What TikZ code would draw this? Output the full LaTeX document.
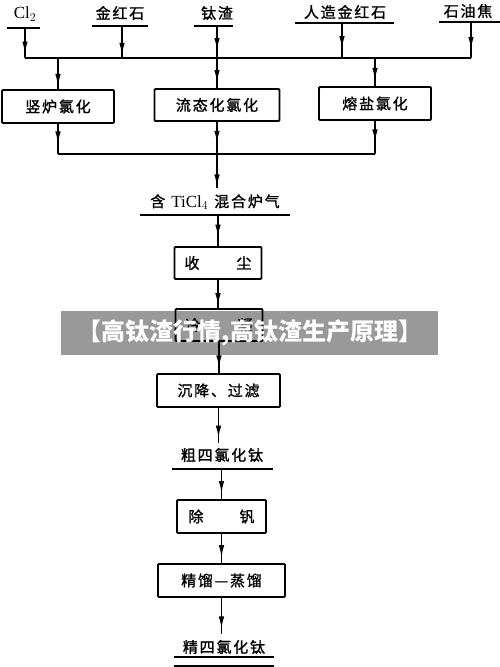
\documentclass[tikz,border=0pt]{standalone}
\usepackage{fontspec}
\setmainfont{Liberation Serif}
\newfontfamily\cjk[LetterSpace=12,FakeBold=1.2]{Noto Sans CJK SC}
\newfontfamily\bannerfont{Noto Sans CJK SC}
\newcommand\cjkfs{\cjk\fontsize{15}{15}\selectfont}
\usetikzlibrary{arrows.meta,decorations.markings}
\tikzset{
  box/.style={draw, line width=1.9pt, rounded corners=1pt, minimum height=33pt, inner sep=0pt, font=\cjkfs},
  flow/.style={line width=1.3pt},
  bar/.style={line width=2pt},
  lbl/.style={inner sep=0pt, font=\cjkfs},
  ma/.style={postaction={decorate}, decoration={markings, mark=at position #1 with {\arrow{Latex[length=12pt,width=5.5pt]}}}},
}
\begin{document}
\begin{tikzpicture}[x=1pt,y=-1pt]
\useasboundingbox (0,0) rectangle (500,667);
% ---------- raw materials ----------
\node[lbl, font=\fontsize{17}{17}\selectfont] (cl) at (25,14) {Cl$_2$};
\node[lbl] (jhs) at (120,13) {金红石};
\node[lbl] (tz)  at (217,13) {钛渣};
\node[lbl] (rz)  at (345,12) {人造金红石};
\node[lbl] (sy)  at (468,11) {石油焦};
\draw[bar] (7,28) -- (40,28);
\draw[bar] (92,26) -- (148,26);
\draw[bar] (194,26) -- (233,26);
\draw[bar] (295,23) -- (394,23);
\draw[bar] (439,22) -- (500,22);
\coordinate (clb) at (25,28);
\coordinate (jhsb) at (122,26);
\coordinate (tzb) at (217,26);
\coordinate (rzb) at (342,23);
\coordinate (syb) at (471,22);
% junctions
\coordinate (j1) at (25,58);
\coordinate (j2) at (122,58);
\coordinate (j3) at (217,58);
\coordinate (j4) at (342,58);
\coordinate (j5) at (471,58);
\coordinate (d1) at (58,58);
\coordinate (d3) at (375,58);
% ---------- chlorination boxes ----------
\node[box, minimum width=112pt] (b1) at (58,106.5) {竖炉氯化};
\node[box, minimum width=125pt, minimum height=32pt] (b2) at (217,105) {流态化氯化};
\node[box, minimum width=112pt] (b3) at (375,103.5) {熔盐氯化};
\draw[flow, ma=0.85] (clb) -- (j1);
\draw[flow, ma=0.9] (jhsb) -- (j2);
\draw[flow, ma=0.75] (tzb) -- (j3);
\draw[flow, ma=0.72] (rzb) -- (j4);
\draw[flow, ma=0.75] (syb) -- (j5);
\draw[flow] (j1) -- (j5);
\draw[flow, ma=0.9] (d1) -- (b1.north);
\draw[flow, ma=0.8] (j3) -- (b2.north);
\draw[flow, ma=0.78] (d3) -- (b3.north);
% ---------- collection ----------
\coordinate (k1) at (58,154);
\coordinate (k2) at (217,154);
\coordinate (k3) at (375,154);
\draw[flow, ma=0.65] (b1.south) -- (k1);
\draw[flow, ma=0.65] (b2.south) -- (k2);
\draw[flow, ma=0.62] (b3.south) -- (k3);
\draw[flow] (k1) -- (k3);
\node[lbl, inner ysep=6pt] (mix) at (215,202) {含\hspace{6pt}{\rmfamily\fontsize{17}{17}\selectfont TiCl$_4$}\hspace{6pt}混合炉气};
\draw[bar] (140,215) -- (290,215);
\coordinate (mixb) at (218,215);
\draw[flow, ma=0.95] (k2) -- (k2 |- mix.north);
% ---------- main line ----------
\node[box, minimum width=87pt, minimum height=32pt] (sc) at (218,263) {收\hspace{37pt}尘};
\node[box, minimum width=87pt, minimum height=32pt] (ln) at (219,325) {冷\hspace{37pt}凝};
\node[box, minimum width=123pt] (cj) at (218.5,390.5) {沉降、过滤};
\draw[flow, ma=0.7] (mixb) -- (mixb |- sc.north);
\draw[flow, ma=0.9] (sc.south) -- (sc.south |- ln.north);
\draw[flow, ma=0.82] (ln.south) -- (ln.south |- cj.north);
\node[lbl, inner ysep=5pt] (cu) at (222,455) {粗四氯化钛};
\draw[bar] (172,469) -- (273,469);
\coordinate (cub) at (221.5,469);
\draw[flow, ma=0.85] (cj.south) -- (cj.south |- cu.north);
\node[box, minimum width=89pt] (cf) at (221.5,516.5) {除\hspace{36pt}钒};
\node[box, minimum width=127pt] (jl) at (221.5,580.5) {精馏—蒸馏};
\draw[flow, ma=0.8] (cub) -- (cf.north);
\draw[flow, ma=0.8] (cf.south) -- (jl.north);
\node[lbl, inner ysep=6pt] (jing) at (224,647) {精四氯化钛};
\draw[flow, ma=0.85] (jl.south) -- (jl.south |- jing.north);
\draw[bar] (174,657) -- (274,657);
\draw[line width=1.6pt] (174,666) -- (274,666);
% ---------- overlay banner ----------
\fill[black, opacity=0.4] (61,311) rectangle (438,355);
\node[text=white, inner sep=0pt, font=\bannerfont\bfseries\fontsize{24}{24}\selectfont] (banner) at (250,333) {【高钛渣行情,高钛渣生产原理】};
\end{tikzpicture}
\end{document}
